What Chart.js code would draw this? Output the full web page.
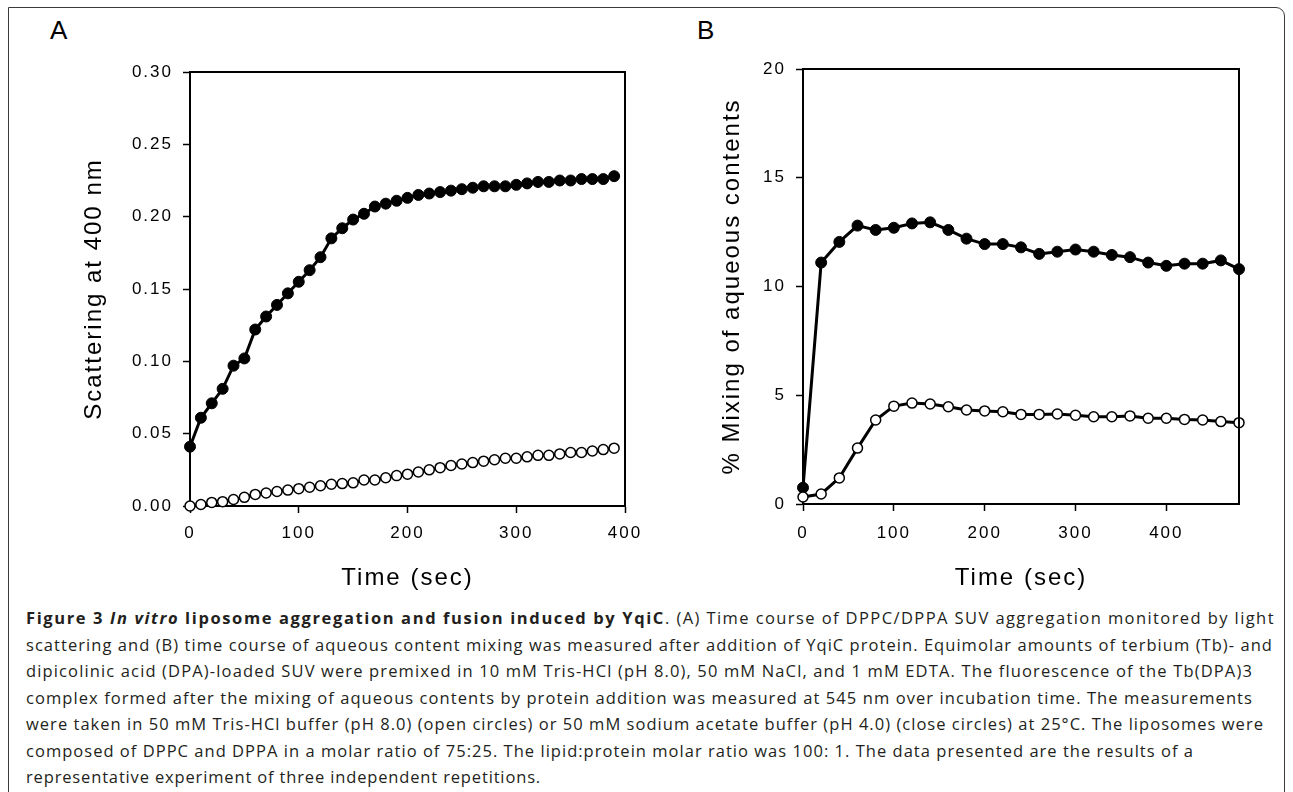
<!DOCTYPE html>
<html>
<head>
<meta charset="utf-8">
<script src="https://cdn.jsdelivr.net/npm/chart.js@4.4.1/dist/chart.umd.min.js"></script>
<style>
  html, body { margin: 0; padding: 0; background: #fff; }
  body { width: 1293px; height: 792px; position: relative; overflow: hidden; font-family: "Liberation Sans", Arial, sans-serif; }
  .frame { position: absolute; left: 8px; top: 7px; width: 1277px; height: 790px; border: 1.5px solid #3a3a3a; border-top-right-radius: 9px; box-sizing: border-box; }
  .panel-label { position: absolute; font-size: 26px; color: #000; }
  #wrapA { position: absolute; left: 0; top: 0; width: 650px; height: 600px; }
  #wrapB { position: absolute; left: 650px; top: 0; width: 643px; height: 600px; }
  .caption { position: absolute; left: 26px; top: 605px; font-family: "Open Sans", sans-serif; font-size: 16.5px; color: #231f20; line-height: 26.5px; }
  .caption div { white-space: nowrap; }
  .caption span { display: inline-block; white-space: pre; }
</style>
</head>
<body>
<div class="frame"></div>
<div class="panel-label" style="left:50px; top:15px;">A</div>
<div class="panel-label" style="left:697px; top:15px;">B</div>
<div id="wrapA"><canvas id="chartA"></canvas></div>
<div id="wrapB"><canvas id="chartB"></canvas></div>
<div class="caption" id="caption">
  <div><span data-w="639"><b>Figure 3 <i>In vitro</i> liposome aggregation and fusion induced by YqiC</b></span><span data-w="610">. (A) Time course of DPPC/DPPA SUV aggregation monitored by light</span></div>
  <div><span data-w="1247">scattering and (B) time course of aqueous content mixing was measured after addition of YqiC protein. Equimolar amounts of terbium (Tb)- and</span></div>
  <div><span data-w="1227">dipicolinic acid (DPA)-loaded SUV were premixed in 10 mM Tris-HCl (pH 8.0), 50 mM NaCl, and 1 mM EDTA. The fluorescence of the Tb(DPA)3</span></div>
  <div><span data-w="1227">complex formed after the mixing of aqueous contents by protein addition was measured at 545 nm over incubation time. The measurements</span></div>
  <div><span data-w="1238">were taken in 50 mM Tris-HCl buffer (pH 8.0) (open circles) or 50 mM sodium acetate buffer (pH 4.0) (close circles) at 25°C. The liposomes were</span></div>
  <div><span data-w="1168">composed of DPPC and DPPA in a molar ratio of 75:25. The lipid:protein molar ratio was 100: 1. The data presented are the results of a</span></div>
  <div><span data-w="515">representative experiment of three independent repetitions.</span></div>
</div>
<script>
// Panel A: light scattering at 400 nm vs time
const aTime = [0, 10, 20, 30, 40, 50, 60, 70, 80, 90, 100, 110, 120, 130, 140, 150, 160, 170, 180, 190,
  200, 210, 220, 230, 240, 250, 260, 270, 280, 290, 300, 310, 320, 330, 340, 350, 360, 370, 380, 390];
const aClosed = [0.041, 0.061, 0.071, 0.081, 0.097, 0.102, 0.122, 0.131, 0.139, 0.147, 0.155, 0.163, 0.172, 0.185, 0.192, 0.198, 0.202, 0.207, 0.209, 0.211,
  0.213, 0.215, 0.216, 0.217, 0.218, 0.219, 0.220, 0.221, 0.221, 0.221, 0.222, 0.223, 0.224, 0.224, 0.225, 0.225, 0.226, 0.226, 0.226, 0.228];
const aOpen = [0.000, 0.001, 0.0025, 0.003, 0.0045, 0.006, 0.008, 0.009, 0.010, 0.011, 0.012, 0.013, 0.014, 0.015, 0.0155, 0.016, 0.018, 0.018, 0.0195, 0.021,
  0.022, 0.0235, 0.025, 0.0265, 0.028, 0.029, 0.030, 0.031, 0.032, 0.033, 0.033, 0.034, 0.035, 0.035, 0.036, 0.037, 0.037, 0.038, 0.039, 0.040];

// Panel B: % mixing of aqueous contents vs time
const bTime = [0, 20, 40, 60, 80, 100, 120, 140, 160, 180, 200, 220, 240, 260, 280, 300, 320, 340, 360, 380, 400, 420, 440, 460, 480];
const bClosed = [0.75, 11.1, 12.05, 12.8, 12.6, 12.7, 12.9, 12.95, 12.6, 12.2, 11.95, 11.95, 11.8, 11.5, 11.6, 11.7, 11.6, 11.45, 11.35, 11.1, 10.95, 11.05, 11.05, 11.2, 10.8];
const bOpen = [0.32, 0.46, 1.2, 2.57, 3.86, 4.5, 4.64, 4.6, 4.47, 4.32, 4.28, 4.24, 4.12, 4.12, 4.14, 4.08, 4.01, 4.01, 4.05, 3.94, 3.94, 3.89, 3.86, 3.79, 3.74];

const aXTicks = [0, 100, 200, 300, 400];
const bXTicks = [0, 100, 200, 300, 400];

// draws the top and right sides of the plot box, and spaces out the letters like the original
const boxAndTracking = {
  id: 'boxAndTracking',
  beforeDraw(chart) { chart.ctx.letterSpacing = '2px'; },
  afterDraw(chart) {
    const ctx = chart.ctx, a = chart.chartArea;
    ctx.save();
    ctx.strokeStyle = '#000';
    ctx.lineWidth = 2;
    ctx.beginPath();
    ctx.moveTo(a.left, a.top);
    ctx.lineTo(a.right, a.top);
    ctx.lineTo(a.right, a.bottom);
    ctx.stroke();
    ctx.restore();
    ctx.letterSpacing = '0px';
  }
};

function pts(xs, ys) {
  return xs.map((x, i) => ({ x: x, y: ys[i] }));
}

function makeChart(id, cfg) {
  const tickFont = { family: '"Liberation Sans", Arial, sans-serif', size: 17 };
  const titleFont = { family: '"Liberation Sans", Arial, sans-serif', size: 24 };
  return new Chart(document.getElementById(id), {
    type: 'line',
    data: {
      datasets: [
        {
          data: pts(cfg.time, cfg.open),
          borderColor: '#000', borderWidth: 3,
          pointBackgroundColor: '#fff', pointBorderColor: '#000',
          pointBorderWidth: 1.5, pointRadius: cfg.radius,
          clip: false, tension: 0
        },
        {
          data: pts(cfg.time, cfg.closed),
          borderColor: '#000', borderWidth: 3,
          pointBackgroundColor: '#000', pointBorderColor: '#000',
          pointBorderWidth: 1, pointRadius: cfg.radius + 0.5,
          clip: false, tension: 0
        }
      ]
    },
    options: {
      responsive: true,
      maintainAspectRatio: false,
      animation: false,
      events: [],
      layout: { padding: { left: 0, top: cfg.top, right: cfg.right, bottom: 0 } },
      plugins: { legend: { display: false }, tooltip: { enabled: false } },
      scales: {
        x: {
          type: 'linear',
          min: 0, max: cfg.xMax,
          afterBuildTicks: s => { s.ticks = cfg.xTicks.map(v => ({ value: v })); },
          afterFit: s => { s.height = cfg.xHeight; },
          ticks: { color: '#000', font: tickFont, padding: cfg.xPad, maxRotation: 0, autoSkip: false },
          grid: { drawOnChartArea: false, drawTicks: true, tickLength: 7, tickColor: '#000', tickWidth: 1.5 },
          border: { display: true, color: '#000', width: 2 },
          title: { display: true, text: 'Time (sec)', color: '#000', font: titleFont, padding: { top: 0, bottom: 7 } }
        },
        y: {
          min: 0, max: cfg.yMax,
          afterFit: s => { s.width = cfg.yWidth; },
          ticks: {
            stepSize: cfg.yStep, color: '#000', font: tickFont, padding: 10,
            callback: v => cfg.yFmt(v)
          },
          grid: { drawOnChartArea: false, drawTicks: true, tickLength: 7, tickColor: '#000', tickWidth: 1.5 },
          border: { display: true, color: '#000', width: 2 },
          title: { display: true, text: cfg.yTitle, color: '#000', font: titleFont, padding: { top: cfg.yTitlePad, bottom: 0 } }
        }
      }
    },
    plugins: [boxAndTracking]
  });
}

makeChart('chartA', {
  time: aTime, closed: aClosed, open: aOpen, radius: 5,
  top: 72, right: 25, xHeight: 94, yWidth: 190, xPad: 10, xMax: 400, xTicks: aXTicks,
  yMax: 0.30, yStep: 0.05, yFmt: v => v.toFixed(2),
  yTitle: 'Scattering at 400 nm', yTitlePad: 80
});

makeChart('chartB', {
  time: bTime, closed: bClosed, open: bOpen, radius: 5,
  top: 69, right: 54, xHeight: 96, yWidth: 153, xPad: 12, xMax: 480, xTicks: bXTicks,
  yMax: 20, yStep: 5, yFmt: v => String(v),
  yTitle: '% Mixing of aqueous contents', yTitlePad: 68
});

// fit each caption run to the width it takes in the original figure
document.querySelectorAll('#caption span[data-w]').forEach(el => {
  const target = Number(el.dataset.w);
  const w = el.getBoundingClientRect().width;
  const n = el.textContent.length;
  el.style.letterSpacing = ((target - w) / n).toFixed(3) + 'px';
});
</script>
</body>
</html>
